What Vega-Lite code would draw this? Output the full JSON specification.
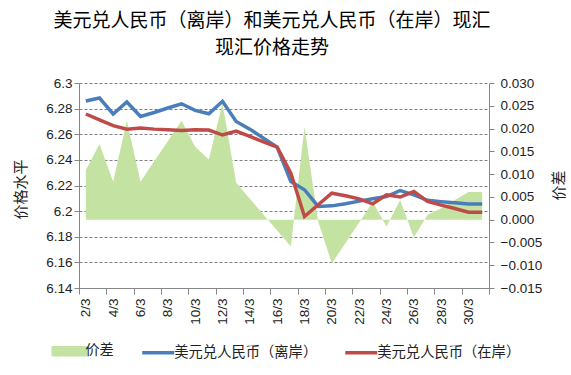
{
  "$schema": "https://vega.github.io/schema/vega-lite/v6.json",
  "width": 410,
  "height": 205,
  "autosize": {"type": "none"},
  "padding": {"left": 79, "top": 83, "right": 82, "bottom": 87},
  "background": "white",
  "title": {
    "text": ["美元兑人民币（离岸）和美元兑人民币（在岸）现汇", "现汇价格走势"],
    "font": "Noto Sans CJK SC",
    "fontSize": 19,
    "fontWeight": "normal",
    "color": "#000000",
    "lineHeight": 27,
    "anchor": "middle",
    "dx": -12,
    "offset": 18
  },
  "data": {
    "values": [
      {"day": 2, "价差": 0.0109, "美元兑人民币（离岸）": 6.286, "美元兑人民币（在岸）": 6.2758},
      {"day": 3, "价差": 0.0166, "美元兑人民币（离岸）": 6.2883, "美元兑人民币（在岸）": 6.2713},
      {"day": 4, "价差": 0.0083, "美元兑人民币（离岸）": 6.2758, "美元兑人民币（在岸）": 6.2667},
      {"day": 5, "价差": 0.0217, "美元兑人民币（离岸）": 6.2852, "美元兑人民币（在岸）": 6.264},
      {"day": 6, "价差": 0.0083, "美元兑人民币（离岸）": 6.2739, "美元兑人民币（在岸）": 6.2648},
      {"day": 7, "价差": 0.0128, "美元兑人民币（离岸）": 6.277, "美元兑人民币（在岸）": 6.264},
      {"day": 8, "价差": 0.0172, "美元兑人民币（离岸）": 6.2805, "美元兑人民币（在岸）": 6.2635},
      {"day": 9, "价差": 0.0217, "美元兑人民币（离岸）": 6.2838, "美元兑人民币（在岸）": 6.263},
      {"day": 10, "价差": 0.016, "美元兑人民币（离岸）": 6.2786, "美元兑人民币（在岸）": 6.2635},
      {"day": 11, "价差": 0.0132, "美元兑人民币（离岸）": 6.276, "美元兑人民币（在岸）": 6.2633},
      {"day": 12, "价差": 0.0255, "美元兑人民币（离岸）": 6.2857, "美元兑人民币（在岸）": 6.2594},
      {"day": 13, "价差": 0.0081, "美元兑人民币（离岸）": 6.27, "美元兑人民币（在岸）": 6.2625},
      {"day": 14, "价差": 0.0046, "美元兑人民币（离岸）": 6.264, "美元兑人民币（在岸）": 6.2583},
      {"day": 15, "价差": 0.0011, "美元兑人民币（离岸）": 6.257, "美元兑人民币（在岸）": 6.2541},
      {"day": 16, "价差": -0.0024, "美元兑人民币（离岸）": 6.25, "美元兑人民币（在岸）": 6.25},
      {"day": 17, "价差": -0.0059, "美元兑人民币（离岸）": 6.2231, "美元兑人民币（在岸）": 6.2297},
      {"day": 18, "价差": 0.0204, "美元兑人民币（离岸）": 6.2167, "美元兑人民币（在岸）": 6.1958},
      {"day": 19, "价差": -0.0004, "美元兑人民币（离岸）": 6.2037, "美元兑人民币（在岸）": 6.205},
      {"day": 20, "价差": -0.0096, "美元兑人民币（离岸）": 6.2041, "美元兑人民币（在岸）": 6.214},
      {"day": 21, "价差": -0.0051, "美元兑人民币（离岸）": 6.2057, "美元兑人民币（在岸）": 6.212},
      {"day": 22, "价差": -0.0006, "美元兑人民币（离岸）": 6.2078, "美元兑人民币（在岸）": 6.2096},
      {"day": 23, "价差": 0.0039, "美元兑人民币（离岸）": 6.2096, "美元兑人民币（在岸）": 6.2057},
      {"day": 24, "价差": -0.0015, "美元兑人民币（离岸）": 6.2114, "美元兑人民币（在岸）": 6.2127},
      {"day": 25, "价差": 0.0043, "美元兑人民币（离岸）": 6.2161, "美元兑人民币（在岸）": 6.211},
      {"day": 26, "价差": -0.0039, "美元兑人民币（离岸）": 6.2127, "美元兑人民币（在岸）": 6.2153},
      {"day": 27, "价差": 0.001, "美元兑人民币（离岸）": 6.2084, "美元兑人民币（在岸）": 6.2075},
      {"day": 28, "价差": 0.0025, "美元兑人民币（离岸）": 6.2074, "美元兑人民币（在岸）": 6.2047},
      {"day": 29, "价差": 0.0043, "美元兑人民币（离岸）": 6.2065, "美元兑人民币（在岸）": 6.202},
      {"day": 30, "价差": 0.0061, "美元兑人民币（离岸）": 6.2055, "美元兑人民币（在岸）": 6.1992},
      {"day": 31, "价差": 0.0061, "美元兑人民币（离岸）": 6.2055, "美元兑人民币（在岸）": 6.1992}
    ]
  },
  "transform": [
    {"fold": ["价差", "美元兑人民币（离岸）", "美元兑人民币（在岸）"], "as": ["series", "value"]}
  ],
  "encoding": {
    "x": {
      "field": "day",
      "type": "quantitative",
      "scale": {"domain": [1.5, 31.5], "nice": false, "zero": false},
      "axis": {
        "title": null,
        "values": [1.5, 2, 3.5, 4, 5.5, 6, 7.5, 8, 9.5, 10, 11.5, 12, 13.5, 14, 15.5, 16, 17.5, 18, 19.5, 20, 21.5, 22, 23.5, 24, 25.5, 26, 27.5, 28, 29.5, 30, 31.5],
        "labelExpr": "datum.value % 1 === 0 ? datum.value + '/3' : ''",
        "labelAngle": -90,
        "labelAlign": "right",
        "labelBaseline": "middle",
        "labelFont": "Liberation Sans",
        "labelFontSize": 13.5,
        "labelColor": "#222222",
        "labelOverlap": false,
        "labelFlush": false,
        "labelBound": false,
        "labelPadding": 4,
        "tickSize": 6,
        "tickColor": "#868686",
        "tickOpacity": {"condition": {"test": "datum.value % 1 !== 0", "value": 1}, "value": 0},
        "domainColor": "#868686",
        "grid": false
      }
    },
    "color": {
      "field": "series",
      "type": "nominal",
      "scale": {
        "domain": ["价差", "美元兑人民币（离岸）", "美元兑人民币（在岸）"],
        "range": ["#c4e3a2", "#4a7ebb", "#be4b48"]
      },
      "legend": {
        "title": null,
        "orient": "none",
        "direction": "horizontal",
        "legendX": -27.75,
        "legendY": 250,
        "labelFont": "Noto Sans CJK SC",
        "labelFontSize": 14.3,
        "labelColor": "#222222",
        "labelOffset": -2,
        "columnPadding": 21,
        "symbolSize": 1024,
        "symbolStrokeWidth": 3.5,
        "symbolType": "stroke",
        "encode": {
          "symbols": {
            "update": {
              "shape": {"signal": "datum.value === '价差' ? 'M-1,-0.22H1V0.22H-1Z' : 'stroke'"},
              "fill": {"signal": "datum.value === '价差' ? '#c4e3a2' : 'transparent'"},
              "stroke": {"signal": "datum.value === '价差' ? 'transparent' : scale('color', datum.value)"},
              "strokeWidth": {"value": 3.5},
              "opacity": {"value": 1},
              "fillOpacity": {"value": 1},
              "strokeOpacity": {"value": 1}
            }
          }
        }
      }
    }
  },
  "layer": [
    {
      "transform": [{"filter": "datum.series === '价差'"}],
      "mark": {"type": "area", "opacity": 1},
      "encoding": {
        "y": {
          "field": "value",
          "type": "quantitative",
          "scale": {"domain": [-0.015, 0.03], "nice": false, "zero": false},
          "axis": {
            "orient": "right",
            "title": "价差",
            "titleFont": "Noto Sans CJK SC",
            "titleFontSize": 15,
            "titleFontWeight": "normal",
            "titleColor": "#222222",
            "titleAngle": -90,
            "titleAlign": "center",
            "titleBaseline": "middle",
            "titleX": 69,
            "titleY": 102,
            "values": [-0.015, -0.01, -0.005, 0, 0.005, 0.01, 0.015, 0.02, 0.025, 0.03],
            "format": ".3f",
            "labelFont": "Liberation Sans",
            "labelFontSize": 13.5,
            "labelColor": "#222222",
            "labelPadding": 6,
            "labelFlush": false,
            "labelOverlap": false,
            "tickSize": 5,
            "tickColor": "#868686",
            "domainColor": "#868686",
            "grid": false
          }
        }
      }
    },
    {
      "transform": [{"filter": "datum.series !== '价差'"}],
      "mark": {"type": "line", "strokeWidth": 3.5},
      "encoding": {
        "y": {
          "field": "value",
          "type": "quantitative",
          "scale": {"domain": [6.14, 6.3], "nice": false, "zero": false},
          "axis": {
            "orient": "left",
            "title": "价格水平",
            "titleFont": "Noto Sans CJK SC",
            "titleFontSize": 15,
            "titleFontWeight": "normal",
            "titleColor": "#222222",
            "titleAngle": -90,
            "titleAlign": "center",
            "titleBaseline": "middle",
            "titleX": -59,
            "titleY": 106,
            "values": [6.14, 6.16, 6.18, 6.2, 6.22, 6.24, 6.26, 6.28, 6.3],
            "format": ".2~f",
            "labelFont": "Liberation Sans",
            "labelFontSize": 13.5,
            "labelColor": "#222222",
            "labelPadding": 2,
            "labelFlush": false,
            "labelOverlap": false,
            "tickSize": 5,
            "tickColor": "#868686",
            "domainColor": "#868686",
            "grid": true,
            "gridColor": "#808080",
            "gridDash": [3, 2],
            "gridWidth": 1
          }
        }
      }
    }
  ],
  "resolve": {"scale": {"y": "independent"}},
  "config": {
    "view": {"stroke": null}
  }
}
